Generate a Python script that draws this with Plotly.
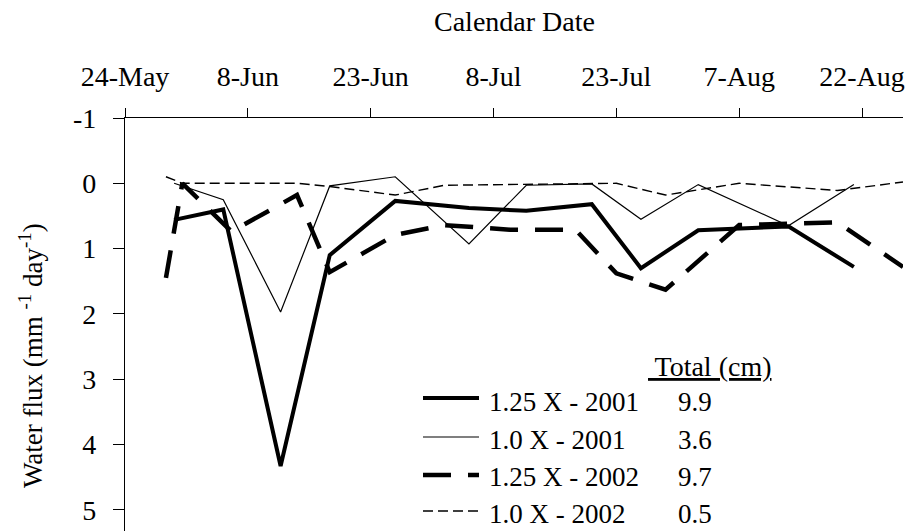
import plotly.graph_objects as go

# ---- data (calendar dates as MM-DD, values in mm/day; positive = downward flux) ----
dates_2001 = ["05-30", "06-05", "06-12", "06-18", "06-26", "07-05",
              "07-12", "07-20", "07-26", "08-02", "08-13", "08-21"]
flux_125x_2001 = [0.56, 0.40, 4.33, 1.10, 0.27, 0.38, 0.42, 0.32, 1.30, 0.72, 0.66, 1.28]
flux_100x_2001 = [0.00, 0.25, 1.97, 0.04, -0.10, 0.93, 0.03, 0.01, 0.55, 0.02, 0.65, 0.02]

dates_2002 = ["05-29", "05-31", "06-06", "06-14", "06-18", "06-26", "07-02",
              "07-10", "07-18", "07-23", "07-29", "08-07", "08-19", "08-27"]
flux_125x_2002 = [1.45, 0.00, 0.74, 0.18, 1.36, 0.79, 0.64, 0.71, 0.71, 1.38, 1.63, 0.64, 0.60, 1.28]
flux_100x_2002 = [-0.10, 0.00, 0.00, 0.00, 0.05, 0.18, 0.03, 0.02, 0.00, 0.00, 0.18, 0.00, 0.11, -0.02]

series_names = ["1.25 X - 2001", "1.0 X - 2001", "1.25 X - 2002", "1.0 X - 2002"]
totals_cm = ["9.9", "3.6", "9.7", "0.5"]

tick_dates = ["05-24", "06-08", "06-23", "07-08", "07-23", "08-07", "08-22"]
x_range = ["05-24", "08-27"]
y_ticks = [-1, 0, 1, 2, 3, 4, 5]
y_ticklabels = ["-1", "0", "1", "2", "3", "4", "5"]

PLOT_YEAR = "2002-"
def cal(md_list):
    return [PLOT_YEAR + md for md in md_list]

FONT = "Liberation Serif"
FS = 28
LFS = 27
styles = [
    dict(width=4, dash="solid"),
    dict(width=1.2, dash="solid"),
    dict(width=4.5, dash="28px,17px"),
    dict(width=1.4, dash="10px,5px"),
]
xs = [cal(dates_2001), cal(dates_2001), cal(dates_2002), cal(dates_2002)]
ys = [flux_125x_2001, flux_100x_2001, flux_125x_2002, flux_100x_2002]

fig = go.Figure()
for name, x, y, st in zip(series_names, xs, ys, styles):
    fig.add_trace(go.Scatter(x=x, y=y, mode="lines", name=name,
                             line=dict(color="black", width=st["width"], dash=st["dash"]),
                             showlegend=False))

W, H = 907, 531
ML, MR, MT, MB = 125, 4, 118, 0
PW, PH = W - ML - MR, H - MT - MB

def px(xp):
    return (xp - ML) / PW

def py(yp):
    return (H - MB - yp) / PH

# ---- manual legend ----
row_line_y = [398, 437, 475, 511]
row_text_y = [402, 440, 477, 514]
shapes = []
annotations = []
for i, (name, tot, st) in enumerate(zip(series_names, totals_cm, styles)):
    shapes.append(dict(type="line", xref="paper", yref="paper",
                       x0=px(423), x1=px(479), y0=py(row_line_y[i]), y1=py(row_line_y[i]),
                       line=dict(color="black", width=st["width"], dash=st["dash"])))
    annotations.append(dict(text=name, xref="paper", yref="paper", x=px(487), y=py(row_text_y[i]),
                            xanchor="left", yanchor="middle", showarrow=False,
                            font=dict(family=FONT, size=LFS, color="black")))
    annotations.append(dict(text=tot, xref="paper", yref="paper", x=px(676), y=py(row_text_y[i]),
                            xanchor="left", yanchor="middle", showarrow=False,
                            font=dict(family=FONT, size=LFS, color="black")))
annotations.append(dict(text="<u> Total (cm)</u>", xref="paper", yref="paper", x=px(646), y=py(366),
                        xanchor="left", yanchor="middle", showarrow=False,
                        font=dict(family=FONT, size=FS, color="black")))
# axis titles
annotations.append(dict(text="Calendar Date", xref="paper", yref="paper", x=0.5, y=py(21),
                        xanchor="center", yanchor="middle", showarrow=False,
                        font=dict(family=FONT, size=FS, color="black")))
annotations.append(dict(text="Water flux (mm <sup>-1</sup> day<sup>-1</sup>)", xref="paper", yref="paper",
                        x=px(31), y=py(356), xanchor="center", yanchor="middle", textangle=-90,
                        showarrow=False, font=dict(family=FONT, size=27, color="black")))

fig.update_layout(
    width=W, height=H,
    margin=dict(l=ML, r=MR, t=MT, b=MB, pad=0),
    paper_bgcolor="white", plot_bgcolor="white",
    font=dict(family=FONT, size=FS, color="black"),
    shapes=shapes, annotations=annotations,
    xaxis=dict(type="date", side="top", range=cal(x_range),
               tickvals=cal(tick_dates), tickformat="%-d-%b",
               ticks="outside", ticklen=9, tickwidth=1.3, tickcolor="black",
               showline=True, linecolor="black", linewidth=1.3,
               showgrid=False, zeroline=False, ticklabelstandoff=11,
               tickfont=dict(family=FONT, size=FS, color="black")),
    yaxis=dict(range=[5.325, -1], tickvals=y_ticks, ticktext=y_ticklabels,
               ticks="outside", ticklen=11, tickwidth=1.3, tickcolor="black",
               showline=True, linecolor="black", linewidth=1.3,
               showgrid=False, zeroline=False, ticklabelstandoff=11,
               tickfont=dict(family=FONT, size=FS, color="black")),
)

fig.write_html("out.html", config={"displayModeBar": False})
